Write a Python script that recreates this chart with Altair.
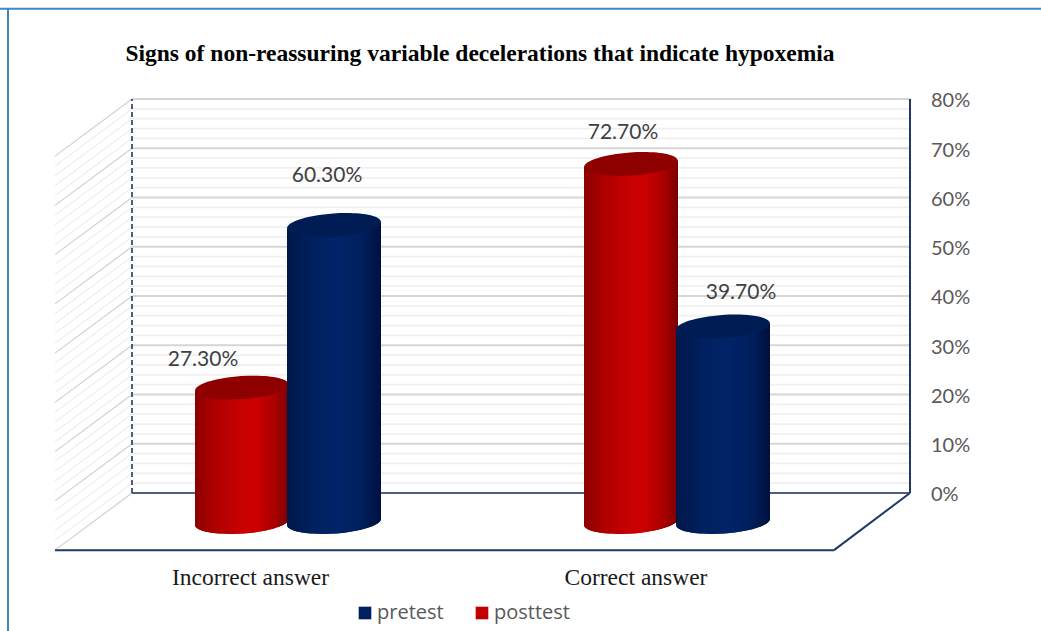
import altair as alt
import pandas as pd

# Chart content
title_text = "Signs of non-reassuring variable decelerations that indicate hypoxemia"
categories = ["Incorrect answer", "Correct answer"]
series_names = ["pretest", "posttest"]
pretest = [60.3, 39.7]
posttest = [27.3, 72.7]
tick_values = [0, 10, 20, 30, 40, 50, 60, 70, 80]
minor_values = [2, 4, 6, 8, 12, 14, 16, 18, 22, 24, 26, 28, 32, 34, 36, 38, 42, 44, 46, 48,
                52, 54, 56, 58, 62, 64, 66, 68, 72, 74, 76, 78]

# Layout of the pseudo-3D box, in canvas pixels for x and percent units for y
W, H = 1041, 631
Y_DOMAIN = [-28.02, 100.1]
BACK_LEFT, BACK_RIGHT = 132, 910
FRONT_LEFT, FRONT_RIGHT = 55, 834
TICK_LABEL_X = 931
TICK_LABEL_DROP = 0.5
FLOOR_DROP = 11.6        # how far the front edge of the floor sits below the back wall
CYL_DROP = 5.9           # cylinders stand mid-way across the floor
CYL_HALF = 47
CYL_TILT = 0.67
GROUP_CENTRES = {"Incorrect answer": 288, "Correct answer": 677}
SERIES_SHIFT = {"posttest": -46, "pretest": 46}
LABEL_DX = {("Incorrect answer", "posttest"): -39, ("Incorrect answer", "pretest"): -7,
            ("Correct answer", "posttest"): -8, ("Correct answer", "pretest"): 18}
LABEL_DY = {("Incorrect answer", "posttest"): -0.25, ("Incorrect answer", "pretest"): 4.15,
            ("Correct answer", "posttest"): 0.3, ("Correct answer", "pretest"): 0.95}

ELLIPSE = ("M -0.998 0.07 A 1 0.245 -4 1 1 0.998 -0.07 "
           "A 1 0.245 -4 1 1 -0.998 0.07 Z")

x_scale = alt.Scale(domain=[0, W], range=[0, W], nice=False, zero=False)
y_scale = alt.Scale(domain=Y_DOMAIN, nice=False, zero=False)
X = lambda f: alt.X(f, type="quantitative", scale=x_scale, axis=None)
Y = lambda f: alt.Y(f, type="quantitative", scale=y_scale, axis=None)

rows = []
for name, vals in (("posttest", posttest), ("pretest", pretest)):
    for cat, v in zip(categories, vals):
        rows.append({"category": cat, "series": name, "value": v,
                     "cx": GROUP_CENTRES[cat] + SERIES_SHIFT[name],
                     "top": v - CYL_DROP, "base": -CYL_DROP,
                     "label": f"{v:.2f}%",
                     "lx": GROUP_CENTRES[cat] + SERIES_SHIFT[name] + LABEL_DX[(cat, name)],
                     "ly": v + LABEL_DY[(cat, name)]})
cyl = pd.DataFrame(rows)

edges = []
for r in rows:
    for side in (-1, 1):
        edges.append({"category": r["category"], "series": r["series"],
                      "ex": r["cx"] + side * CYL_HALF,
                      "etop": r["top"] + side * CYL_TILT,
                      "ebase": r["base"] + side * CYL_TILT})
edges = pd.DataFrame(edges)

grid = pd.DataFrame(
    [{"v": v, "major": True} for v in tick_values] + [{"v": v, "major": False} for v in minor_values]
)
grid["x0"] = BACK_LEFT
grid["x1"] = BACK_RIGHT
grid["xf"] = FRONT_LEFT
grid["vf"] = grid["v"] - FLOOR_DROP

# Back wall and side wall hatching
minor = grid[~grid.major]
major = grid[grid.major]
back_minor = alt.Chart(minor).mark_rule(color="#f0f0f0", strokeWidth=1.8).encode(
    x=X("x0"), x2="x1", y=Y("v"))
back_major = alt.Chart(major).mark_rule(color="#d6d6d6", strokeWidth=2).encode(
    x=X("x0"), x2="x1", y=Y("v"))
side_minor = alt.Chart(minor).mark_rule(color="#e8e8e8", strokeWidth=1).encode(
    x=X("x0"), x2="xf", y=Y("v"), y2="vf")
side_major = alt.Chart(major).mark_rule(color="#d0d0d0", strokeWidth=1.2).encode(
    x=X("x0"), x2="xf", y=Y("v"), y2="vf")

# Box outline
NAVY = "#1f3864"
box = pd.DataFrame([
    {"x": BACK_LEFT, "x2": BACK_RIGHT, "y": 0, "y2": 0, "w": 1.5},
    {"x": FRONT_LEFT, "x2": FRONT_RIGHT, "y": -FLOOR_DROP, "y2": -FLOOR_DROP, "w": 2},
    {"x": FRONT_RIGHT, "x2": BACK_RIGHT, "y": -FLOOR_DROP, "y2": 0, "w": 2},
    {"x": BACK_RIGHT, "x2": BACK_RIGHT, "y": 0, "y2": 80, "w": 2},
])
box_lines = alt.Chart(box).mark_rule(color=NAVY).encode(
    x=X("x"), x2="x2", y=Y("y"), y2="y2",
    strokeWidth=alt.StrokeWidth("w:Q", scale=None))
left_dash = alt.Chart(pd.DataFrame({"x": [BACK_LEFT], "y": [0], "y2": [80]})).mark_rule(
    color=NAVY, strokeWidth=1.6, strokeDash=[5, 3]).encode(x=X("x"), y=Y("y"), y2="y2")


def gradient(stops):
    return alt.Gradient(gradient="linear", x1=0, y1=0, x2=1, y2=0,
                        stops=[alt.GradientStop(offset=o, color=c) for o, c in stops])


RED_BODY = gradient([(0, "#8a0000"), (0.2, "#ad0000"), (0.5, "#c80000"), (0.65, "#cc0000"), (0.85, "#a80000"), (1, "#7a0000")])
BLUE_BODY = gradient([(0, "#00174a"), (0.3, "#00215f"), (0.55, "#002468"), (0.8, "#001f5c"), (1, "#001040")])
BODY = {"posttest": RED_BODY, "pretest": BLUE_BODY}
CAP = {"posttest": "#8e0000", "pretest": "#001c55"}


def cylinder(category, name):
    one = (cyl.category == category) & (cyl.series == name)
    side = (edges.category == category) & (edges.series == name)
    base_solid = alt.Chart(cyl[one]).mark_point(
        shape=ELLIPSE, size=(2 * CYL_HALF) ** 2, filled=True, opacity=1, strokeWidth=0
    ).encode(
        x=X("cx"), y=Y("base"),
        color=alt.Color("series:N",
                        scale=alt.Scale(domain=series_names, range=["#002060", "#c00000"]),
                        legend=alt.Legend(orient="none", legendX=355, legendY=603, title=None,
                                          direction="horizontal", symbolType="square",
                                          symbolSize=160, labelFont="Open Sans", labelFontSize=20,
                                          labelColor="#595959", columnPadding=28,
                                          labelOffset=2, symbolStrokeWidth=0)))
    base_shade = alt.Chart(cyl[one]).mark_point(
        shape=ELLIPSE, size=(2 * CYL_HALF) ** 2, filled=True, opacity=1, strokeWidth=0,
        fill=BODY[name]).encode(x=X("cx"), y=Y("base"))
    body = alt.Chart(edges[side]).mark_area(fill=BODY[name], opacity=1, strokeWidth=0).encode(
        x=X("ex"), y=Y("etop"), y2="ebase")
    cap = alt.Chart(cyl[one]).mark_point(
        shape=ELLIPSE, size=(2 * CYL_HALF) ** 2, filled=True, opacity=1, strokeWidth=0,
        fill=CAP[name]).encode(x=X("cx"), y=Y("top"))
    return [base_solid, base_shade, body, cap]


cylinders = []
for cat in categories:
    cylinders += cylinder(cat, "posttest") + cylinder(cat, "pretest")

# Value labels
value_labels = alt.Chart(cyl).mark_text(
    font="Lato", fontSize=21, color="#404040", align="center", baseline="middle"
).encode(x=X("lx"), y=Y("ly"), text="label:N")

# Percentage scale to the right of the box
ticks = pd.DataFrame({
    "x": [TICK_LABEL_X] * len(tick_values),
    "y": [v - TICK_LABEL_DROP for v in tick_values],
    "t": [f"{v}%" for v in tick_values],
})
tick_labels = alt.Chart(ticks).mark_text(
    font="Lato", fontSize=20, color="#595959", align="left", baseline="middle"
).encode(x=X("x"), y=Y("y"), text="t:N")

# Category labels and heading
cat_labels = alt.Chart(pd.DataFrame({
    "category": categories,
    "x": [250.5, 636],
    "y": [-17.2, -17.2],
})).mark_text(font="Liberation Serif", fontSize=23.5, color="#1a1a1a", align="center",
              baseline="middle").encode(x=X("x"), y=Y("y"), text="category:N")
heading = alt.Chart(pd.DataFrame({"t": [title_text], "x": [480], "y": [89.2]})).mark_text(
    font="Liberation Serif", fontSize=23.5, fontWeight="bold", color="#000000",
    align="center", baseline="middle").encode(x=X("x"), y=Y("y"), text="t:N")

# Outer frame
frame = pd.DataFrame({"x": [8, 0], "x2": [8, W], "y": [Y_DOMAIN[0], 98.3], "y2": [98.3, 98.3]})
frame_lines = alt.Chart(frame).mark_rule(color="#3f88c0", strokeWidth=2).encode(
    x=X("x"), x2="x2", y=Y("y"), y2="y2")

chart = alt.layer(
    frame_lines, back_minor, back_major, side_minor, side_major, left_dash, box_lines,
    *cylinders, value_labels, tick_labels, cat_labels, heading,
).properties(
    width=W, height=H, background="white", padding=0,
    autosize=alt.AutoSizeParams(type="none", contains="content"),
).configure_view(stroke=None)

chart.save("out.html", embed_options={"renderer": "svg", "actions": False})
